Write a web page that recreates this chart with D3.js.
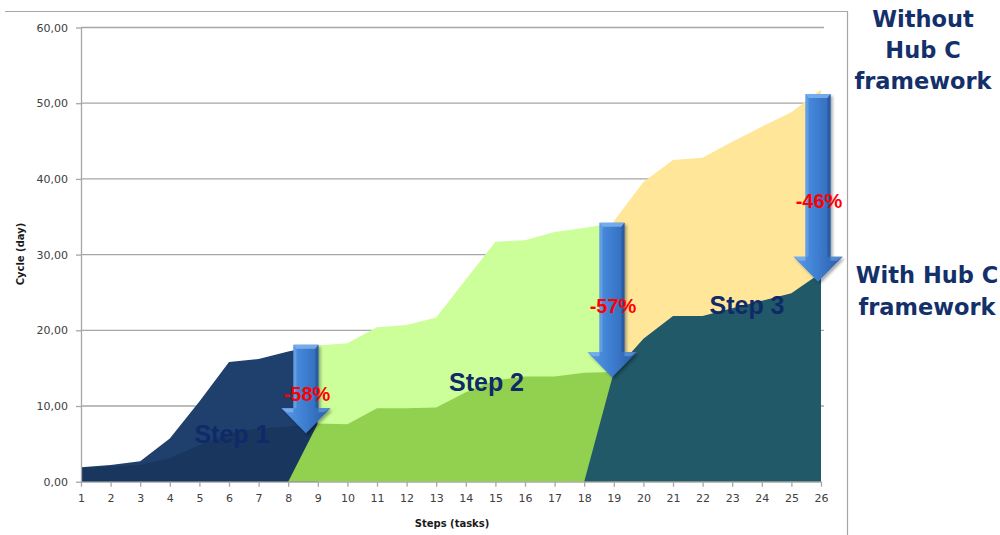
<!DOCTYPE html>
<html>
<head>
<meta charset="utf-8">
<script src="https://cdn.jsdelivr.net/npm/d3@7"></script>
<style>
  html, body { margin: 0; padding: 0; background: #ffffff; }
  svg { display: block; }
</style>
</head>
<body>
<svg id="chart" width="1000" height="535"></svg>
<script>
// Steps on the x axis (tasks 1..26)
const steps = d3.range(1, 27);
const yTicks = [0, 10, 20, 30, 40, 50, 60];

// Cumulative cycle time (days) per step; null = outside the phase
const withoutStep1 = [1.9, 2.2, 2.7, 5.7, 10.6, 15.8, 16.2, 17.2, 18.0,
  null, null, null, null, null, null, null, null, null, null, null, null, null, null, null, null, null];
const withStep1 = [1.8, 2.0, 2.2, 3.1, 4.8, 6.4, 7.0, 7.3, 7.6,
  null, null, null, null, null, null, null, null, null, null, null, null, null, null, null, null, null];
const withoutStep2 = [null, null, null, null, null, null, null, null,
  18.0, 18.3, 20.4, 20.7, 21.7, 26.7, 31.7, 31.9, 33.0, 33.5, 34.2,
  null, null, null, null, null, null, null];
const withStep2 = [null, null, null, null, null, null, null,
  0, 7.7, 7.6, 9.7, 9.7, 9.8, 11.8, 13.4, 13.9, 13.9, 14.4, 14.5,
  null, null, null, null, null, null, null];
const withoutStep3 = [null, null, null, null, null, null, null, null, null, null,
  null, null, null, null, null, null, null, null,
  34.4, 39.6, 42.5, 42.8, 44.9, 46.9, 48.8, 51.8];
const withStep3 = [null, null, null, null, null, null, null, null, null, null,
  null, null, null, null, null, null, null,
  0, 14.5, 18.9, 21.9, 21.9, 22.9, 23.9, 24.9, 27.6];

// Reduction arrows: position on the step axis, start (without) and end (with) values
const reductionLabels = ["-58%", "-57%", "-46%"];
const arrowSteps = [8.6, 18.94, 25.9];
const arrowFrom = [18.1, 34.2, 51.2];
const arrowTo = [6.4, 13.8, 26.4];
const reductionLabelValues = [10.6, 22.3, 36.1];

const phaseLabels = ["Step 1", "Step 2", "Step 3"];
const phaseLabelSteps = [6.1, 14.7, 23.5];
const phaseLabelValues = [5.1, 12.0, 22.2];

const svg = d3.select("#chart");

const x = d3.scaleLinear().domain([1, 26]).range([81, 821]);
const y = d3.scaleLinear().domain([0, 60]).range([481.7, 27.5]);

// Outer frame (top and right edges)
svg.append("path")
  .attr("d", "M5,11.5 H847.5 V535")
  .attr("fill", "none").attr("stroke", "#a6a6a6").attr("stroke-width", 1.2);

// Horizontal gridlines
svg.append("g").selectAll("line").data(yTicks.slice(1)).join("line")
  .attr("x1", x(1)).attr("x2", x(26) + 3)
  .attr("y1", d => y(d)).attr("y2", d => y(d))
  .attr("stroke", "#a6a6a6").attr("stroke-width", 1.3);

// Areas, drawn back to front
const series = [
  { values: withoutStep1, color: "#1f3f6c" },
  { values: withStep1, color: "#18365e" },
  { values: withoutStep2, color: "#ccff99" },
  { values: withStep2, color: "#92d050" },
  { values: withoutStep3, color: "#ffe699" },
  { values: withStep3, color: "#215968" }
];

const area = d3.area()
  .defined(d => d.v !== null)
  .x(d => x(d.s))
  .y0(y(0))
  .y1(d => y(d.v));

svg.append("g").selectAll("path").data(series).join("path")
  .attr("d", d => area(steps.map((s, i) => ({ s: s, v: d.values[i] }))))
  .attr("fill", d => d.color);

// Axes
const gx = svg.append("g").attr("transform", `translate(0,${y(0)})`)
  .call(d3.axisBottom(x).tickValues(steps).tickFormat(d3.format("d")).tickSize(5).tickSizeOuter(0));
const gy = svg.append("g").attr("transform", `translate(${x(1)},0)`)
  .call(d3.axisLeft(y).tickValues(yTicks).tickFormat(d => d3.format(".2f")(d).replace(".", ",")).tickSize(5).tickSizeOuter(0));

[gx, gy].forEach(g => {
  g.select(".domain").attr("stroke", "#a6a6a6").attr("stroke-width", 1.3);
  g.selectAll(".tick line").attr("stroke", "#a6a6a6").attr("stroke-width", 1.3);
  g.selectAll(".tick text")
    .attr("font-family", "DejaVu Sans, sans-serif")
    .attr("font-size", 11)
    .attr("fill", "#404040");
});
gx.selectAll(".tick text").attr("dy", "0.71em").attr("y", 13);
gy.selectAll(".tick text").attr("x", -13);

// Axis titles
svg.append("text")
  .attr("x", 452).attr("y", 527)
  .attr("text-anchor", "middle")
  .attr("font-family", "DejaVu Sans, sans-serif")
  .attr("font-size", 10).attr("font-weight", "bold").attr("fill", "#1a1a1a")
  .text("Steps (tasks)");
svg.append("text")
  .attr("transform", "translate(24,254) rotate(-90)")
  .attr("text-anchor", "middle")
  .attr("font-family", "DejaVu Sans, sans-serif")
  .attr("font-size", 10).attr("font-weight", "bold").attr("fill", "#1a1a1a")
  .text("Cycle (day)");

// Phase labels
svg.append("g").selectAll("text").data(phaseLabels).join("text")
  .attr("x", (d, i) => x(phaseLabelSteps[i]))
  .attr("y", (d, i) => y(phaseLabelValues[i]))
  .attr("text-anchor", "middle")
  .attr("font-family", "Liberation Sans, Arial, sans-serif")
  .attr("font-size", 25).attr("font-weight", "bold")
  .attr("fill", "#0f2a68")
  .text(d => d);

// Arrow styling
const defs = svg.append("defs");
const grad = defs.append("linearGradient").attr("id", "arrowFill")
  .attr("x1", "0").attr("x2", "1").attr("y1", "0").attr("y2", "0");
grad.append("stop").attr("offset", "0%").attr("stop-color", "#5a9ae6");
grad.append("stop").attr("offset", "45%").attr("stop-color", "#3f80d3");
grad.append("stop").attr("offset", "100%").attr("stop-color", "#2a5ca4");
const shadow = defs.append("filter").attr("id", "arrowShadow")
  .attr("x", "-30%").attr("y", "-10%").attr("width", "160%").attr("height", "130%");
shadow.append("feDropShadow").attr("dx", 2).attr("dy", 2).attr("stdDeviation", 1.6)
  .attr("flood-color", "#000").attr("flood-opacity", 0.35);

const shaftHalf = 12.5, headHalf = 24.5, headLen = 25;
const arrows = svg.append("g").selectAll("g").data(reductionLabels).join("g");

arrows.each(function (d, i) {
  const g = d3.select(this);
  const cx = x(arrowSteps[i]);
  const top = y(arrowFrom[i]);
  const tip = y(arrowTo[i]);
  const neck = tip - headLen;
  g.append("path")
    .attr("d", `M${cx - shaftHalf},${top} H${cx + shaftHalf} V${neck} H${cx + headHalf} L${cx},${tip} L${cx - headHalf},${neck} H${cx - shaftHalf} Z`)
    .attr("fill", "url(#arrowFill)")
    .attr("filter", "url(#arrowShadow)");
  // bevel highlights: top cap, shaft sides and head shoulders
  g.append("path")
    .attr("d", `M${cx - shaftHalf},${top} H${cx + shaftHalf} L${cx + shaftHalf - 3},${top + 4} H${cx - shaftHalf + 3} Z`)
    .attr("fill", "#7fb3ef").attr("opacity", 0.85);
  g.append("path")
    .attr("d", `M${cx - shaftHalf},${top} V${neck} H${cx - shaftHalf + 3} V${top + 4} Z`)
    .attr("fill", "#6aa5ea").attr("opacity", 0.7);
  g.append("path")
    .attr("d", `M${cx + shaftHalf},${top} V${neck} H${cx + shaftHalf - 3} V${top + 4} Z`)
    .attr("fill", "#234f90").attr("opacity", 0.6);
  g.append("path")
    .attr("d", `M${cx - headHalf},${neck} H${cx - shaftHalf} V${neck + 4} H${cx - headHalf + 6} Z`)
    .attr("fill", "#7fb3ef").attr("opacity", 0.8);
  g.append("path")
    .attr("d", `M${cx + shaftHalf},${neck} H${cx + headHalf} L${cx + headHalf - 6},${neck + 4} H${cx + shaftHalf} Z`)
    .attr("fill", "#5d93d8").attr("opacity", 0.8);
});

// Reduction percentages
svg.append("g").selectAll("text").data(reductionLabels).join("text")
  .attr("x", (d, i) => x(arrowSteps[i]) + 1)
  .attr("y", (d, i) => y(reductionLabelValues[i]))
  .attr("text-anchor", "middle")
  .attr("font-family", "Liberation Sans, Arial, sans-serif")
  .attr("font-size", 20).attr("font-weight", "bold")
  .attr("fill", "#ff0000")
  .text(d => d);

// Side legend text
const legendFont = "DejaVu Sans, sans-serif";
const sideTop = svg.append("text")
  .attr("text-anchor", "middle")
  .attr("font-family", legendFont).attr("font-size", 22.5).attr("font-weight", "bold")
  .attr("fill", "#14306a");
["Without", "Hub C", "framework"].forEach((t, i) => {
  sideTop.append("tspan").attr("x", 923).attr("y", 27 + i * 31).text(t);
});
const sideBottom = svg.append("text")
  .attr("text-anchor", "middle")
  .attr("font-family", legendFont).attr("font-size", 22.5).attr("font-weight", "bold")
  .attr("fill", "#14306a");
["With Hub C", "framework"].forEach((t, i) => {
  sideBottom.append("tspan").attr("x", 927).attr("y", 283 + i * 32).text(t);
});
</script>
</body>
</html>
